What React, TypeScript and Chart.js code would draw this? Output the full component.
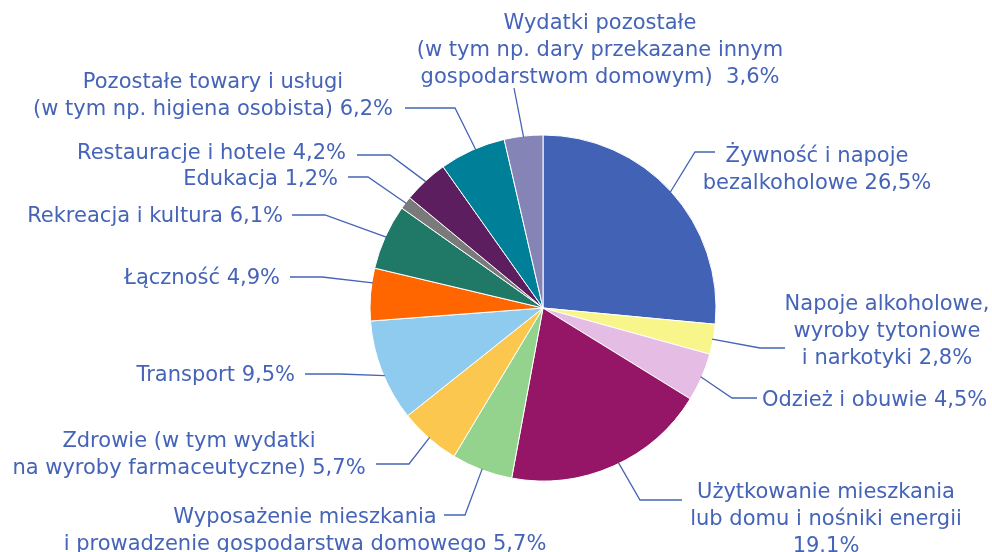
import React, { useEffect, useRef } from "react";
import { Chart, registerables } from "chart.js";

Chart.register(...registerables);

const categories = [
  "Żywność i napoje bezalkoholowe",
  "Napoje alkoholowe, wyroby tytoniowe i narkotyki",
  "Odzież i obuwie",
  "Użytkowanie mieszkania lub domu i nośniki energii",
  "Wyposażenie mieszkania i prowadzenie gospodarstwa domowego",
  "Zdrowie (w tym wydatki na wyroby farmaceutyczne)",
  "Transport",
  "Łączność",
  "Rekreacja i kultura",
  "Edukacja",
  "Restauracje i hotele",
  "Pozostałe towary i usługi (w tym np. higiena osobista)",
  "Wydatki pozostałe (w tym np. dary przekazane innym gospodarstwom domowym)",
];

const values = [26.5, 2.8, 4.5, 19.1, 5.7, 5.7, 9.5, 4.9, 6.1, 1.2, 4.2, 6.2, 3.6];

const labelLines = [
  ["Żywność i napoje", "bezalkoholowe 26,5%"],
  ["Napoje alkoholowe,", "wyroby tytoniowe", "i narkotyki 2,8%"],
  ["Odzież i obuwie 4,5%"],
  ["Użytkowanie mieszkania", "lub domu i nośniki energii", "19.1%"],
  ["Wyposażenie mieszkania", "i prowadzenie gospodarstwa domowego 5,7%"],
  ["Zdrowie (w tym wydatki", "na wyroby farmaceutyczne) 5,7%"],
  ["Transport 9,5%"],
  ["Łączność 4,9%"],
  ["Rekreacja i kultura 6,1%"],
  ["Edukacja 1,2%"],
  ["Restauracje i hotele 4,2%"],
  ["Pozostałe towary i usługi", "(w tym np. higiena osobista) 6,2%"],
  ["Wydatki pozostałe", "(w tym np. dary przekazane innym", "gospodarstwom domowym)  3,6%"],
];

const colors = [
  "#4262B5", "#F8F68A", "#E5BCE3", "#951666", "#94D38D", "#FBC74F", "#8FCBEF",
  "#FF6600", "#207967", "#7A7A7A", "#5C1E5F", "#008098", "#8584B7",
];

// Label layout, relative to the pie centre (px): text anchor, alignment,
// leader elbow and leader end, and where along the slice's arc the leader attaches.
type LabelLayout = {
  tx: number; ty: number; align: CanvasTextAlign;
  ex: number; ey: number; hx: number; hy: number; attach: number;
};
const layout: LabelLayout[] = [
  { tx: 274, ty: -140, align: "center", ex: 152, ey: -156, hx: 172, hy: -156, attach: 0.5 },
  { tx: 344, ty: 22, align: "center", ex: 217, ey: 40, hx: 242, hy: 40, attach: 0.5 },
  { tx: 219, ty: 91, align: "left", ex: 189, ey: 90, hx: 214, hy: 90, attach: 0.5 },
  { tx: 283, ty: 210, align: "center", ex: 97, ey: 192, hx: 139, hy: 192, attach: 0.47 },
  { tx: -238, ty: 221, align: "center", ex: -78, ey: 207, hx: -99, hy: 207, attach: 0.5 },
  { tx: -354, ty: 145.5, align: "center", ex: -134, ey: 156, hx: -167, hy: 156, attach: 0.5 },
  { tx: -248, ty: 66, align: "right", ex: -203, ey: 66, hx: -238, hy: 66, attach: 0.45 },
  { tx: -263, ty: -31, align: "right", ex: -221, ey: -31, hx: -253, hy: -31, attach: 0.72 },
  { tx: -260, ty: -93, align: "right", ex: -218, ey: -93, hx: -251, hy: -93, attach: 0.5 },
  { tx: -205, ty: -130, align: "right", ex: -175, ey: -131, hx: -195, hy: -131, attach: 0.5 },
  { tx: -197, ty: -156, align: "right", ex: -153, ey: -153, hx: -186, hy: -153, attach: 0.5 },
  { tx: -330, ty: -214, align: "center", ex: -88, ey: -200, hx: -138, hy: -200, attach: 0.55 },
  { tx: 57, ty: -259, align: "center", ex: -29, ey: -220, hx: -29, hy: -220, attach: 0.5 },
];

const TEXT_COLOR = "#4564B8";
const FONT = '21px "DejaVu Sans"';
const LINE_H = 27;
const TEXT_DY = 2;

const labelPlugin = {
  id: "outerLabels",
  afterDraw(chart: any) {
    const ctx = chart.ctx as CanvasRenderingContext2D;
    const meta = chart.getDatasetMeta(0);
    ctx.save();
    ctx.font = FONT;
    ctx.fillStyle = TEXT_COLOR;
    ctx.strokeStyle = TEXT_COLOR;
    ctx.lineWidth = 1.3;
    ctx.textBaseline = "middle";
    meta.data.forEach((arc: any, i: number) => {
      const L = layout[i];
      const cx = arc.x, cy = arc.y;
      const a = arc.startAngle + (arc.endAngle - arc.startAngle) * L.attach;
      const r = arc.outerRadius - 1;
      const sx = cx + Math.cos(a) * r;
      const sy = cy + Math.sin(a) * r;
      ctx.beginPath();
      ctx.moveTo(sx, sy);
      ctx.lineTo(cx + L.ex, cy + L.ey);
      ctx.lineTo(cx + L.hx, cy + L.hy);
      ctx.stroke();
      ctx.textAlign = L.align;
      const lines = labelLines[i];
      const n = lines.length;
      lines.forEach((t, k) => {
        const y = cy + L.ty + TEXT_DY + (k - (n - 1) / 2) * LINE_H;
        ctx.fillText(t, cx + L.tx, y);
      });
    });
    ctx.restore();
  },
};

export default function App() {
  const ref = useRef<HTMLCanvasElement>(null);
  useEffect(() => {
    document.body.style.margin = "0";
    const chart = new Chart(ref.current!, {
      type: "pie",
      data: {
        labels: categories,
        datasets: [
          {
            data: values,
            backgroundColor: colors,
            borderColor: "#ffffff",
            borderWidth: 1,
            hoverOffset: 0,
            radius: 173,
          } as any,
        ],
      },
      options: {
        responsive: false,
        animation: false,
        layout: { padding: { left: 370, right: 276, top: 135, bottom: 71 } },
        plugins: {
          legend: { display: false },
          tooltip: { enabled: false },
        },
      },
      plugins: [labelPlugin],
    });
    return () => chart.destroy();
  }, []);
  return (
    <div style={{ width: 992, height: 552 }}>
      <canvas ref={ref} width={992} height={552} style={{ display: "block" }} />
    </div>
  );
}
